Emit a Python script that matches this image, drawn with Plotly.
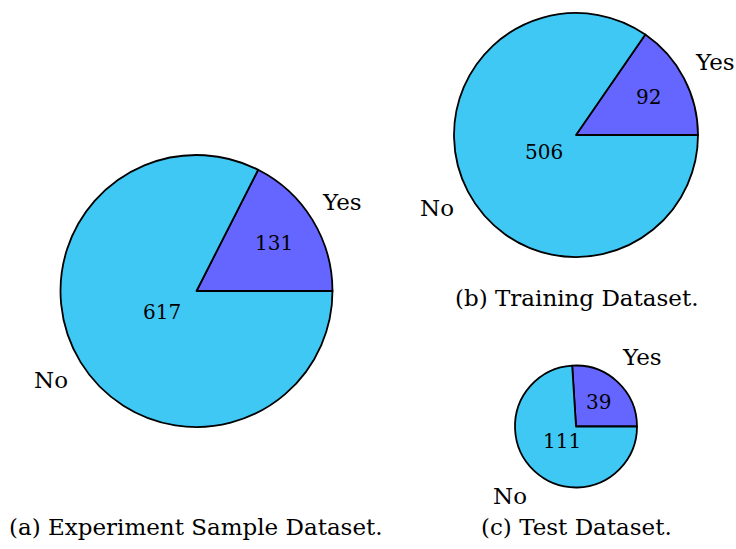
import math
import plotly.graph_objects as go

# Class counts per dataset split
labels = ["Yes", "No"]
sample_counts = [131, 617]
train_counts = [92, 506]
test_counts = [39, 111]
captions = [
    "(a) Experiment Sample Dataset.",
    "(b) Training Dataset.",
    "(c) Test Dataset.",
]

W, H = 736, 549
colors = ["#6565FF", "#40C8F4"]
FONT = "DejaVu Serif"
TEXT_SIZE = 23
NUM_SIZE = 20

# Pie layout in pixels: centre x, centre y, radius, inner label radius factors (Yes, No)
pies = [
    dict(values=sample_counts, cx=196.5, cy=291, r=136, inner=(0.67, 0.30), cap_y=527),
    dict(values=train_counts, cx=576, cy=135, r=122, inner=(0.67, 0.30), cap_y=298),
    dict(values=test_counts, cx=576, cy=426.5, r=61, inner=(0.55, 0.33), cap_y=527),
]
OUTER_GAP = 35  # px between rim and outer category label


def px_to_paper(x, y):
    return x / W, 1 - y / H


fig = go.Figure()
annotations = []
for pie, cap in zip(pies, captions):
    cx, cy, r = pie["cx"], pie["cy"], pie["r"]
    vals = pie["values"]
    total = sum(vals)
    x0, y1 = px_to_paper(cx - r, cy - r)
    x1, y0 = px_to_paper(cx + r, cy + r)
    # first slice starts at 3 o'clock and runs counterclockwise;
    # plotly places the first slice clockwise of `rotation`, so offset by its angle
    first_angle = vals[0] / total * 360.0
    fig.add_trace(go.Pie(
        labels=labels,
        values=vals,
        sort=False,
        direction="counterclockwise",
        rotation=90 - first_angle,
        textinfo="none",
        hoverinfo="label+value",
        marker=dict(colors=colors, line=dict(color="black", width=1.8)),
        domain=dict(x=[x0, x1], y=[y0, y1]),
        showlegend=False,
    ))

    start = 0.0
    for lab, val, fac in zip(labels, vals, pie["inner"]):
        span = val / total * 360.0
        mid = math.radians(start + span / 2)
        start += span
        # value inside the slice
        ix, iy = cx + fac * r * math.cos(mid), cy - fac * r * math.sin(mid)
        px, py = px_to_paper(ix, iy)
        annotations.append(dict(x=px, y=py, xref="paper", yref="paper",
                                text=str(val), showarrow=False,
                                xanchor="center", yanchor="middle",
                                font=dict(family=FONT, size=NUM_SIZE, color="black")))
        # category label outside the rim
        ox = cx + (r + OUTER_GAP) * math.cos(mid)
        oy = cy - (r + OUTER_GAP) * math.sin(mid)
        px, py = px_to_paper(ox, oy)
        annotations.append(dict(x=px, y=py, xref="paper", yref="paper",
                                text=lab, showarrow=False,
                                xanchor="center", yanchor="middle",
                                font=dict(family=FONT, size=TEXT_SIZE, color="black")))

    px, py = px_to_paper(cx, pie["cap_y"])
    annotations.append(dict(x=px, y=py, xref="paper", yref="paper",
                            text=cap, showarrow=False,
                            xanchor="center", yanchor="middle",
                            font=dict(family=FONT, size=TEXT_SIZE, color="black")))

fig.update_layout(
    width=W, height=H,
    margin=dict(l=0, r=0, t=0, b=0),
    paper_bgcolor="white",
    plot_bgcolor="white",
    annotations=annotations,
)

fig.write_html("out.html")
